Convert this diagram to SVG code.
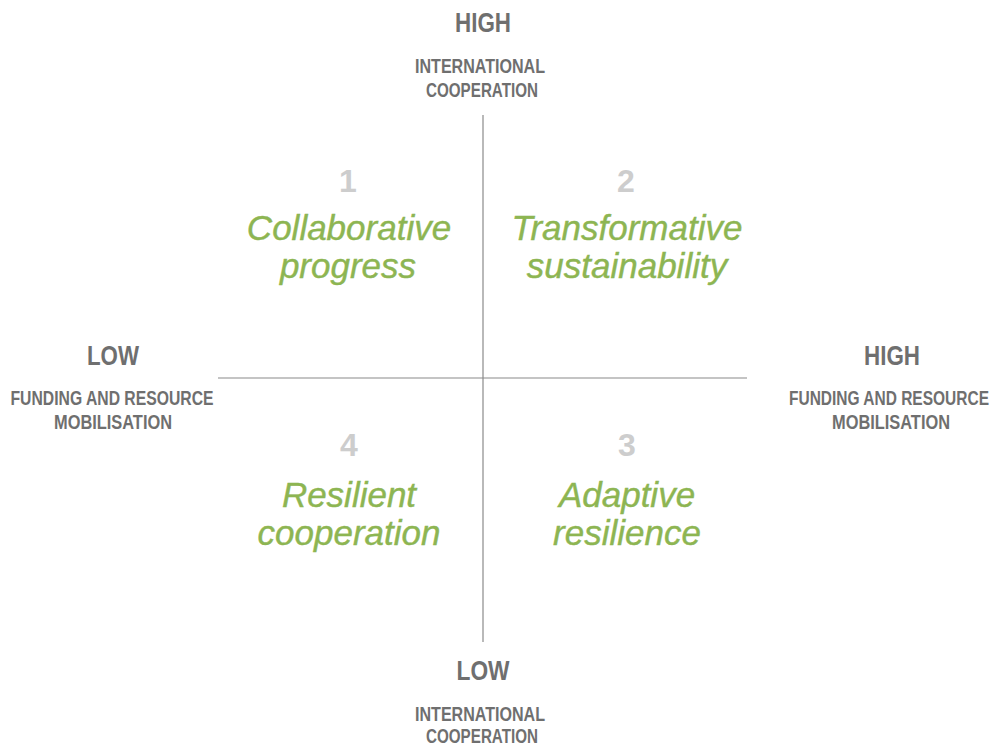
<svg xmlns="http://www.w3.org/2000/svg" width="995" height="747" viewBox="0 0 995 747">
<style>
.ax{font-family:"Liberation Sans",Arial,sans-serif;font-weight:bold;fill:#6f6f6f;text-anchor:middle}
.big{font-size:28px}
.sm{font-size:20px}
.num{font-family:"Liberation Sans",Arial,sans-serif;font-weight:bold;font-size:32px;fill:#cdcdcd;text-anchor:middle}
.q{font-family:"Liberation Sans",Arial,sans-serif;font-style:italic;font-size:35px;fill:#8db552;stroke:#8db552;stroke-width:0.4;text-anchor:middle}
.ln{stroke:#8a8a8a;stroke-width:1.2;fill:none}
</style>
<rect width="995" height="747" fill="#ffffff"/>
<g id="connectors">
<line class="ln" x1="483" y1="115" x2="483" y2="642"/>
<line class="ln" x1="218" y1="378" x2="747" y2="378"/>
</g>
<g id="top-label">
<text class="ax big" x="483" y="32" textLength="56" lengthAdjust="spacingAndGlyphs">HIGH</text>
<text class="ax sm" x="480" y="73" textLength="130" lengthAdjust="spacingAndGlyphs">INTERNATIONAL</text>
<text class="ax sm" x="482" y="97" textLength="112" lengthAdjust="spacingAndGlyphs">COOPERATION</text>
</g>
<g id="bottom-label">
<text class="ax big" x="483" y="680" textLength="53" lengthAdjust="spacingAndGlyphs">LOW</text>
<text class="ax sm" x="480" y="721" textLength="130" lengthAdjust="spacingAndGlyphs">INTERNATIONAL</text>
<text class="ax sm" x="482" y="743" textLength="112" lengthAdjust="spacingAndGlyphs">COOPERATION</text>
</g>
<g id="left-label">
<text class="ax big" x="113" y="365" textLength="52" lengthAdjust="spacingAndGlyphs">LOW</text>
<text class="ax sm" x="112" y="405" textLength="203" lengthAdjust="spacingAndGlyphs">FUNDING AND RESOURCE</text>
<text class="ax sm" x="113" y="429" textLength="118" lengthAdjust="spacingAndGlyphs">MOBILISATION</text>
</g>
<g id="right-label">
<text class="ax big" x="892" y="365" textLength="56" lengthAdjust="spacingAndGlyphs">HIGH</text>
<text class="ax sm" x="889" y="405" textLength="200" lengthAdjust="spacingAndGlyphs">FUNDING AND RESOURCE</text>
<text class="ax sm" x="891" y="429" textLength="118" lengthAdjust="spacingAndGlyphs">MOBILISATION</text>
</g>
<g id="q1">
<text class="num" x="348" y="192">1</text>
<text class="q" x="349" y="240">Collaborative</text>
<text class="q" x="348" y="278">progress</text>
</g>
<g id="q2">
<text class="num" x="626" y="192">2</text>
<text class="q" x="627" y="240">Transformative</text>
<text class="q" x="627" y="278">sustainability</text>
</g>
<g id="q4">
<text class="num" x="349" y="456">4</text>
<text class="q" x="349" y="507">Resilient</text>
<text class="q" x="349" y="545">cooperation</text>
</g>
<g id="q3">
<text class="num" x="627" y="456">3</text>
<text class="q" x="627" y="507">Adaptive</text>
<text class="q" x="627" y="545">resilience</text>
</g>
</svg>
